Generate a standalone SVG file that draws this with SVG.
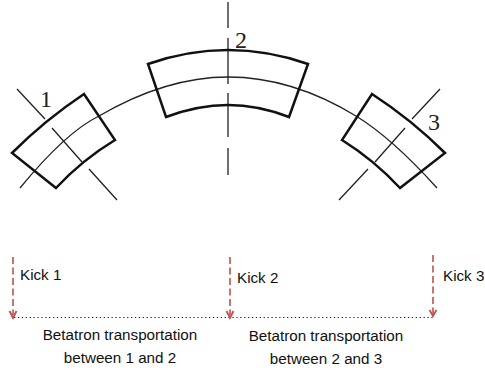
<svg xmlns="http://www.w3.org/2000/svg" width="485" height="376" viewBox="0 0 485 376">
<style>
.mag{fill:none;stroke:#111;stroke-width:2.5;stroke-linejoin:miter}
.thin{fill:none;stroke:#222;stroke-width:1.3}
.num{font-family:"Liberation Serif",serif;font-size:24px;fill:#222}
.lbl{font-family:"Liberation Sans",Arial,sans-serif;font-size:15.200px;fill:#111}
.mid{text-anchor:middle}
.kick{fill:none;stroke:#c0504d;stroke-width:1.6;stroke-dasharray:7 3.500}
.head{fill:none;stroke:#c0504d;stroke-width:1.8}
.dot{fill:none;stroke:#222;stroke-width:1.2;stroke-dasharray:1.3 2.600}
</style>
<rect width="485" height="376" fill="#fff"/>
<g id="connectors">
<path class="thin" d="M20 188Q66 132 99 116Q166 77 228 77Q292 77 356 116Q392 138 437 188"/>
<path class="thin" d="M17 89L45 119M52 128L82 162M89 169L117 200"/>
<path class="thin" d="M440 89L412 119M405 128L375 162M368 169L339 200"/>
<path class="thin" d="M228 2V28M228 38V84M228 93V137M228 148V175"/>
<path class="dot" d="M14 317.500H433"/>
<path class="kick" d="M13 257V315"/>
<path class="head" d="M9.500 311L13 318L16.500 311"/>
<path class="kick" d="M230 257V315"/>
<path class="head" d="M226.500 311L230 318L233.500 311"/>
<path class="kick" d="M433 255V314"/>
<path class="head" d="M429.500 310L433 316L436.500 310"/>
</g>
<g id="magnet-1">
<path class="mag" d="M12 153Q45 120 84 94L115 140Q82 160 56 188Z"/>
<text class="num" x="40" y="107">1</text>
</g>
<g id="magnet-2">
<path class="mag" d="M148 64Q188 50 228 50Q268 50 308 64L289 117Q258 105 228 105Q198 105 166 117Z"/>
<text class="num" x="235" y="48">2</text>
</g>
<g id="magnet-3">
<path class="mag" d="M372 94Q412 120 445 153L400 188Q374 160 342 140Z"/>
<text class="num" x="428" y="130">3</text>
</g>
<g id="label-kick-1"><text class="lbl" x="20" y="280">Kick 1</text></g>
<g id="label-kick-2"><text class="lbl" x="237" y="283">Kick 2</text></g>
<g id="label-kick-3"><text class="lbl" x="443" y="281">Kick 3</text></g>
<g id="label-between-1-2"><text class="lbl mid" x="120" y="340">Betatron transportation</text><text class="lbl mid" x="120" y="363">between 1 and 2</text></g>
<g id="label-between-2-3"><text class="lbl mid" x="326" y="341">Betatron transportation</text><text class="lbl mid" x="326" y="364">between 2 and 3</text></g>
</svg>
